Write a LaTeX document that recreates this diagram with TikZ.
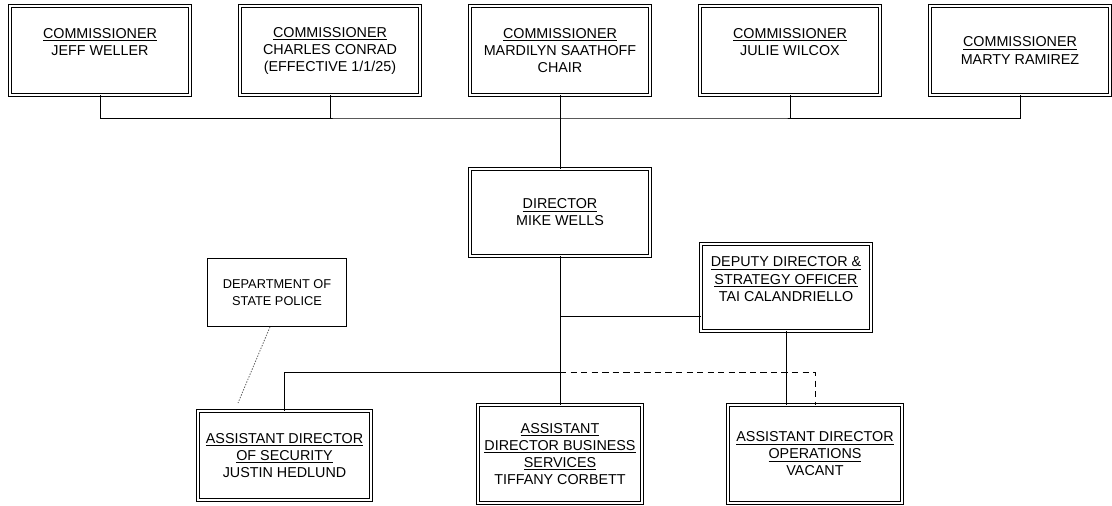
\documentclass[tikz,border=0pt]{standalone}
\usepackage{fontspec}
\setmainfont{Liberation Sans}
\usetikzlibrary{positioning}
\newcommand{\boxfont}{\fontsize{10.2pt}{12.1pt}\selectfont}
\newcommand{\smallboxfont}{\fontsize{9.1pt}{12.1pt}\selectfont}
\newcommand{\rolettl}[1]{\underline{#1}}
\tikzstyle{office} = [rectangle, draw=black, double, double distance=1.4pt, line width=0.6pt, inner sep=2pt, align=center, font=\boxfont]
\tikzstyle{member} = [office, minimum width=4.5cm, minimum height=2.225cm]
\tikzstyle{agency} = [rectangle, draw=black, line width=0.6pt, minimum width=3.475cm, minimum height=1.7cm, align=center, font=\smallboxfont]
\tikzstyle{link} = [line width=0.6pt]

\begin{document}
\begin{tikzpicture}[node distance=5.75cm]
\useasboundingbox (0,0) rectangle (27.8,-12.65);
\node (c1) [member] at (2.5,-1.2625) {\rolettl{COMMISSIONER}\\JEFF WELLER\\\phantom{X}};
\node (c2) [member, right of=c1] {\rolettl{COMMISSIONER}\\CHARLES CONRAD\\(EFFECTIVE 1/1/25)};
\node (c3) [member, right of=c2] {\rolettl{COMMISSIONER}\\MARDILYN SAATHOFF\\CHAIR};
\node (c4) [member, right of=c3] {\rolettl{COMMISSIONER}\\JULIE WILCOX\\\phantom{X}};
\node (c5) [member, right of=c4] {\rolettl{COMMISSIONER}\\MARTY RAMIREZ};

\node (dir) [office, below of=c3, yshift=1.7cm, minimum width=4.5cm, minimum height=2.175cm] {\rolettl{DIRECTOR}\\MIKE WELLS};
\node (dep) [office, right of=dir, xshift=-0.1cm, yshift=-1.875cm, minimum width=4.25cm, minimum height=2.175cm] {\rolettl{DEPUTY DIRECTOR \&}\\\rolettl{STRATEGY OFFICER}\\TAI CALANDRIELLO\\\phantom{X}};
\node (police) [agency, left of=dir, xshift=-1.325cm, yshift=-2cm] {DEPARTMENT OF\\STATE POLICE};
\node (sec) [office, below of=police, xshift=0.1875cm, yshift=1.675cm, minimum width=4.325cm, minimum height=2.225cm] {\rolettl{ASSISTANT DIRECTOR}\\\rolettl{OF SECURITY}\\JUSTIN HEDLUND};
\node (biz) [office, below of=dir, yshift=-0.2875cm, minimum width=4.1cm, minimum height=2.45cm] {\rolettl{ASSISTANT}\\\rolettl{DIRECTOR BUSINESS}\\\rolettl{SERVICES}\\TIFFANY CORBETT};
\node (ops) [office, right of=biz, xshift=0.625cm, minimum width=4.35cm, minimum height=2.45cm] {\rolettl{ASSISTANT DIRECTOR}\\\rolettl{OPERATIONS}\\VACANT};

\coordinate (bus) at (14,-2.95);
\coordinate (split) at (14,-7.9);
\coordinate (lowbus) at (14,-9.3);
\coordinate (dotend) at (5.95,-10.075);

\draw[link] (c1.south) |- (bus) -| (c5.south);
\draw[link] (c2.south) -- (c2.south |- bus);
\draw[link] (c4.south) -- (c4.south |- bus);
\draw[link] (c3.south) -- (dir.north);
\draw[link] (dir.south) -- (biz.north);
\draw[link] (split) -- (split -| dep.west);
\draw[link] (dep.south) -- (dep.south |- ops.north);
\draw[link] (sec.north) |- (lowbus);
\draw[link, dash pattern=on 4.5pt off 3pt] (lowbus) -| (ops.north);
\draw[link, dash pattern=on 1pt off 1pt, black!60] ([xshift=-0.175cm]police.south) -- (dotend);
\end{tikzpicture}
\end{document}
